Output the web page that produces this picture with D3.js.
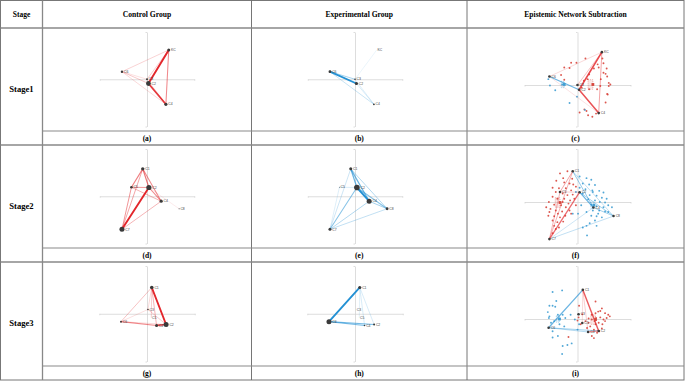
<!DOCTYPE html>
<html>
<head>
<meta charset="utf-8">
<script src="https://cdn.jsdelivr.net/npm/d3@7"></script>
<style>
  body { margin: 0; background: #fff; }
  svg { display: block; }
</style>
</head>
<body>
<div id="chart"></div>
<script>
// Textes du tableau
const stages = ["Stage1", "Stage2", "Stage3"];
const groups = ["Control Group", "Experimental Group", "Epistemic Network Subtraction"];
const captions = ["(a)", "(b)", "(c)", "(d)", "(e)", "(f)", "(g)", "(h)", "(i)"];

// Positions des codes (coordonnées ENA, même disposition dans une étape)
const stage1Codes = ["KC", "C6", "C2", "C3", "C4"];
const stage1X = [0.46, -0.53, 0.03, 0.0, 0.40];
const stage1Y = [0.62, 0.16, -0.09, 0.0, -0.53];

const stage2Codes = ["C1", "C5", "C2", "C4", "C8", "C7"];
const stage2X = [-0.09, -0.33, 0.04, 0.30, 0.68, -0.53];
const stage2Y = [0.58, 0.19, 0.185, -0.105, -0.265, -0.70];

const stage3Codes = ["C1", "C3", "C5", "C6", "C4", "C2"];
const stage3X = [0.10, 0.02, 0.09, -0.545, 0.20, 0.40];
const stage3Y = [0.55, 0.09, -0.075, -0.165, -0.245, -0.225];

// Arêtes [source, cible, poids] et tailles des noeuds
const edgesA = [[0,2,1.0],[2,4,0.9],[0,4,0.45],[1,0,0.18],[1,4,0.15],[1,2,0.22],[0,3,0.2],[3,4,0.15],[1,3,0.12]];
const sizesA = [1.5, 1.2, 2.4, 1.0, 1.6];
const edgesB = [[1,2,1.0],[1,4,0.22],[2,4,0.15],[3,4,0.12],[1,3,0.35],[0,3,0.05]];
const sizesB = [0, 1.4, 1.6, 0.8, 0.9];
const edgesC = [[0,2,0.8,"r"],[2,4,0.75,"r"],[0,4,0.35,"r"],[1,0,0.15,"r"],[1,2,0.6,"b"],[0,3,0.25,"r"],[1,4,0.1,"r"]];

const edgesD = [[5,2,1.0],[0,1,0.5],[0,2,0.55],[0,3,0.45],[0,5,0.35],[1,5,0.4],[1,2,0.4],[1,3,0.3],[2,3,0.45],[3,5,0.3],[2,4,0.05]];
const sizesD = [1.7, 1.3, 2.6, 1.6, 0.5, 2.5];
const edgesE = [[2,3,1.0],[0,2,0.6],[0,3,0.6],[0,4,0.3],[2,4,0.45],[3,4,0.35],[5,2,0.45],[5,3,0.3],[5,4,0.25],[0,5,0.2],[1,2,0.15],[1,5,0.12]];
const sizesE = [1.5, 0.4, 2.8, 2.5, 1.4, 1.5];
const edgesF = [[5,2,0.6,"r"],[0,1,0.35,"r"],[0,5,0.3,"r"],[1,5,0.3,"r"],[1,2,0.2,"r"],[2,3,0.6,"b"],[0,3,0.4,"b"],[3,4,0.35,"b"],[5,4,0.25,"b"],[5,3,0.2,"b"],[0,4,0.25,"b"],[2,4,0.35,"b"]];

const edgesG = [[0,5,1.0],[4,5,0.85],[3,4,0.45],[3,0,0.25],[0,4,0.3],[0,2,0.2],[3,5,0.15],[1,5,0.2],[3,1,0.12],[0,1,0.15]];
const sizesG = [1.8, 0.8, 0, 1.0, 1.5, 2.5];
const edgesH = [[0,3,1.0],[3,5,0.55],[3,4,0.5],[0,5,0.15],[0,4,0.15],[0,2,0.1]];
const sizesH = [1.6, 0, 0, 2.5, 0.8, 1.0];
const edgesI = [[0,3,0.6,"b"],[0,5,0.7,"r"],[3,5,0.35,"b"],[3,4,0.3,"b"],[4,5,0.5,"r"],[0,4,0.2,"r"],[0,2,0.15,"r"]];

// Points des individus (soustraction)
const pointsCRed = [[0.15,0.50],[-0.02,0.42],[-0.12,0.42],[-0.25,0.33],[-0.15,0.32],[-0.31,0.19],[-0.25,0.10],[0.47,0.50],[0.49,0.41],[0.38,0.39],[0.40,0.33],[0.31,0.31],[0.55,0.31],[0.49,0.23],[0.53,0.21],[0.56,0.16],[0.59,0.04],[0.62,0.01],[0.59,-0.02],[0.56,-0.17],[0.57,-0.18],[0.53,-0.33],[0.22,0.20],[0.19,0.11],[0.12,0.08],[0.08,-0.05],[0.13,-0.46],[0.17,-0.49],[0.04,-0.52],[0.20,-0.57],[0.28,-0.60],[0.35,-0.54],[0.22,-0.08],[0.37,-0.08],[0.43,-0.02],[0.44,0.11]];
const pointsCBlue = [[-0.55,0.11],[-0.52,-0.01],[-0.42,-0.10],[-0.15,-0.34],[-0.01,-0.22],[-0.29,0.01],[0.14,-0.47]];
const centroidsC = [[0.29,0.01],[-0.25,0.01]];

const pointsFRed = [[-0.33,0.54],[-0.19,0.58],[-0.27,0.45],[-0.10,0.44],[-0.40,0.40],[-0.25,0.37],[-0.15,0.35],[-0.08,0.33],[-0.03,0.29],[-0.47,0.27],[-0.35,0.26],[-0.22,0.26],[-0.12,0.22],[-0.41,0.19],[-0.28,0.16],[-0.19,0.13],[-0.09,0.14],[-0.47,0.10],[-0.38,0.06],[-0.25,0.06],[-0.14,0.03],[-0.54,0.00],[-0.44,-0.05],[-0.31,-0.06],[-0.22,-0.10],[-0.51,-0.13],[-0.41,-0.16],[-0.29,-0.18],[-0.15,-0.16],[-0.55,-0.26],[-0.44,-0.27],[-0.33,-0.29],[-0.23,-0.26],[-0.47,-0.35],[-0.38,-0.38],[-0.27,-0.37],[-0.44,-0.45],[-0.35,-0.48],[-0.53,-0.19],[-0.06,0.06],[-0.03,-0.06],[-0.17,-0.03],[-0.59,-0.10],[-0.37,-0.22],[-0.28,0.00],[-0.12,-0.22],[-0.41,-0.51],[-0.47,-0.59]];
const pointsFBlue = [[0.04,0.48],[0.17,0.45],[0.26,0.42],[0.10,0.35],[0.22,0.33],[0.33,0.32],[0.04,0.27],[0.15,0.24],[0.28,0.22],[0.41,0.21],[0.49,0.18],[0.10,0.16],[0.23,0.13],[0.36,0.12],[0.46,0.08],[0.20,0.05],[0.33,0.03],[0.42,0.00],[0.52,-0.01],[0.26,-0.05],[0.36,-0.08],[0.49,-0.10],[0.58,-0.06],[0.65,-0.10],[0.29,-0.16],[0.41,-0.16],[0.52,-0.18],[0.17,-0.19],[0.26,-0.26],[0.36,-0.27],[0.46,-0.29],[-0.09,-0.22],[0.01,-0.22],[0.33,-0.35],[0.23,-0.40],[0.17,-0.45],[0.10,-0.48],[0.36,-0.45],[0.18,-0.63],[0.07,-0.06],[-0.03,0.19],[0.58,-0.19],[0.39,-0.22],[0.29,0.19],[0.55,0.06]];
const centroidsF = [[-0.33,-0.01],[0.31,-0.06]];

const pointsIRed = [[0.34,0.33],[0.43,0.15],[0.46,0.20],[0.39,0.14],[0.34,0.11],[0.27,0.08],[0.52,0.11],[0.58,0.08],[0.61,0.05],[0.55,0.02],[0.49,-0.01],[0.43,0.03],[0.35,0.02],[0.27,-0.01],[0.21,0.01],[0.15,-0.04],[0.09,0.09],[0.02,0.03],[0.06,-0.10],[0.00,-0.03],[0.40,-0.07],[0.34,-0.10],[0.47,-0.10],[0.52,-0.04],[0.24,-0.14],[0.18,-0.17],[0.31,-0.20],[0.37,-0.26],[0.27,-0.32],[0.31,-0.36],[-0.17,-0.34],[0.03,0.25],[0.46,-0.18],[0.41,-0.23],[0.32,-0.04],[0.21,-0.07]];
const pointsIBlue = [[-0.47,0.51],[-0.29,0.54],[-0.40,0.34],[-0.47,0.25],[-0.53,0.25],[-0.42,0.23],[-0.56,0.13],[-0.53,0.05],[-0.54,0.02],[-0.37,0.08],[-0.28,0.08],[-0.23,0.02],[-0.44,-0.04],[-0.50,-0.07],[-0.47,-0.23],[-0.37,-0.32],[-0.47,-0.35],[-0.28,-0.51],[-0.19,-0.49],[-0.11,-0.46],[-0.29,-0.66],[-0.05,-0.01],[0.03,-0.10],[0.00,-0.20],[-0.25,-0.14],[-0.34,-0.10],[-0.13,0.08]];
const centroidsI = [[0.34,-0.01],[-0.34,0.00]];

// Dimensions et couleurs
const W = 685, H = 385;
const colX = [0.5, 42.5, 251.5, 467, 684];
const rowY = [0.5, 28, 145, 262, 380];
const capY = [131, 248, 366];
const RED = "#e3262b", BLUE = "#2491d4";
const ptRed = "#d8453c", ptBlue = "#3f9ed3";

const svg = d3.select("#chart").append("svg")
    .attr("width", W).attr("height", H);

// Lignes du tableau
const grid = svg.append("g").attr("fill", "none");
// bordure extérieure
grid.append("rect").attr("x", 0.5).attr("y", 0.5).attr("width", 683.5).attr("height", 379.5)
    .attr("stroke", "#777").attr("stroke-width", 1);
// séparateurs de colonnes
[colX[1], colX[2], colX[3]].forEach((x, i) => {
    grid.append("line").attr("x1", x).attr("x2", x).attr("y1", 0.5).attr("y2", 380)
        .attr("stroke", i === 0 ? "#888" : "#666").attr("stroke-width", i === 0 ? 1.3 : 0.9);
});
// lignes entre les étapes
[rowY[1], rowY[2], rowY[3]].forEach(y => {
    grid.append("line").attr("x1", 0.5).attr("x2", 684).attr("y1", y).attr("y2", y)
        .attr("stroke", "#888").attr("stroke-width", 1.3);
});
// lignes au-dessus des légendes
capY.forEach(y => {
    grid.append("line").attr("x1", colX[1]).attr("x2", 684).attr("y1", y).attr("y2", y)
        .attr("stroke", "#8a8a8a").attr("stroke-width", 1.2);
});

// En-têtes
const headFont = "'Liberation Serif', 'Times New Roman', serif";
svg.append("text").attr("x", 21.5).attr("y", 17).attr("text-anchor", "middle")
    .style("font-family", headFont).style("font-weight", "bold").style("font-size", "7.5px")
    .style("fill", "#000")
    .text("Stage");
groups.forEach((t, i) => {
    svg.append("text")
        .attr("x", (colX[i + 1] + colX[i + 2]) / 2).attr("y", 17)
        .attr("text-anchor", "middle")
        .style("font-family", headFont).style("font-weight", "bold").style("font-size", "7.6px")
        .style("fill", "#000")
        .text(t);
});
stages.forEach((t, i) => {
    svg.append("text").attr("x", 21.5).attr("y", (rowY[i + 1] + rowY[i + 2]) / 2 + 5)
        .attr("text-anchor", "middle")
        .style("font-family", headFont).style("font-weight", "bold").style("font-size", "8.6px")
        .style("fill", "#000")
        .text(t);
});
captions.forEach((t, k) => {
    const r = Math.floor(k / 3), c = k % 3;
    svg.append("text")
        .attr("x", (colX[c + 1] + colX[c + 2]) / 2)
        .attr("y", (capY[r] + rowY[r + 2]) / 2 + 2.8)
        .attr("text-anchor", "middle")
        .style("font-family", headFont).style("font-weight", "bold").style("font-size", "7.5px")
        .style("fill", "#000")
        .text(t);
});

// Échelles communes pour les arêtes
const widthScale = d3.scaleLinear().domain([0, 1]).range([0.35, 1.9]);
const opacityScale = d3.scaleLinear().domain([0, 1]).range([0.18, 1]);

// Fonction de dessin d'un réseau
function drawPanel(row, col, p) {
    const cx = [147, 355, 577.5][col];
    const top = rowY[row + 1] + 4, bottom = capY[row] - 4.5;
    let k, yMin;
    if (col < 2) { k = (bottom - top) / 2; yMin = -1; }
    else { k = 53; yMin = -(bottom - top - k) / k; }
    const x = d3.scaleLinear().domain([-1, 1]).range([cx - k, cx + k]);
    const y = d3.scaleLinear().domain([yMin, 1]).range([bottom, top]);
    const g = svg.append("g");

    // Axes (croix grise)
    g.append("g").attr("transform", `translate(0,${y(0)})`)
        .call(d3.axisBottom(x).tickValues([-1, 1]).tickSize(1.5).tickSizeOuter(0).tickFormat(""))
        .call(a => a.selectAll("path,line").attr("stroke", "#cfcfcf").attr("stroke-width", 0.7));
    g.append("g").attr("transform", `translate(${x(0)},0)`)
        .call(d3.axisLeft(y).tickValues([yMin, 1]).tickSize(1.5).tickSizeOuter(0).tickFormat(""))
        .call(a => a.selectAll("path,line").attr("stroke", "#cfcfcf").attr("stroke-width", 0.7));

    const nodes = p.codes.map((c, i) => ({ code: c, x: p.nx[i], y: p.ny[i] }));

    // Points et centroïdes
    if (p.points) {
        p.points.forEach((pts, s) => {
            const col = s === 0 ? ptRed : ptBlue;
            g.append("g").selectAll("circle").data(pts).enter().append("circle")
                .attr("cx", d => x(d[0])).attr("cy", d => y(d[1])).attr("r", 0.95)
                .attr("fill", col).attr("opacity", 0.9);
        });
    }

    // Arêtes
    const edges = p.edges.slice().sort((a, b) => a[2] - b[2]);
    g.append("g").selectAll("line").data(edges).enter().append("line")
        .attr("x1", d => x(nodes[d[0]].x)).attr("y1", d => y(nodes[d[0]].y))
        .attr("x2", d => x(nodes[d[1]].x)).attr("y2", d => y(nodes[d[1]].y))
        .attr("stroke", d => (d[3] || p.color) === "r" ? RED : BLUE)
        .attr("stroke-width", d => widthScale(d[2]))
        .attr("stroke-opacity", d => opacityScale(d[2]))
        .attr("stroke-linecap", "round");

    if (p.centroids) {
        p.centroids.forEach((c, s) => {
            const col = s === 0 ? ptRed : ptBlue;
            const hw = s === 0 ? 0.09 : 0.06;
            g.append("rect")
                .attr("x", x(c[0] - hw)).attr("y", y(c[1] + hw))
                .attr("width", x(hw) - x(0)).attr("height", y(-hw) - y(hw))
                .attr("fill", col).attr("fill-opacity", 0.12)
                .attr("stroke", col).attr("stroke-width", 0.4).attr("stroke-dasharray", "1,1");
            g.append("rect")
                .attr("x", x(c[0]) - 1.4).attr("y", y(c[1]) - 1.4)
                .attr("width", 2.8).attr("height", 2.8).attr("fill", col);
        });
    }

    // Noeuds et étiquettes
    const sizes = p.sizes || nodes.map(() => 1.3);
    g.append("g").selectAll("circle").data(nodes).enter().append("circle")
        .attr("cx", d => x(d.x)).attr("cy", d => y(d.y))
        .attr("r", (d, i) => sizes[i])
        .attr("fill", "#3a3a3a");
    g.append("g").selectAll("text").data(nodes).enter().append("text")
        .attr("x", (d, i) => x(d.x) + sizes[i] + 0.8).attr("y", d => y(d.y) + 1.2)
        .style("font-family", "Arial, 'Liberation Sans', sans-serif")
        .style("font-size", "3.4px").style("fill", "#444")
        .text(d => d.code);
}

const stageNodes = [
    { codes: stage1Codes, nx: stage1X, ny: stage1Y },
    { codes: stage2Codes, nx: stage2X, ny: stage2Y },
    { codes: stage3Codes, nx: stage3X, ny: stage3Y }
];
const panels = [
    [{ edges: edgesA, sizes: sizesA, color: "r" }, { edges: edgesB, sizes: sizesB, color: "b" },
     { edges: edgesC, points: [pointsCRed, pointsCBlue], centroids: centroidsC }],
    [{ edges: edgesD, sizes: sizesD, color: "r" }, { edges: edgesE, sizes: sizesE, color: "b" },
     { edges: edgesF, points: [pointsFRed, pointsFBlue], centroids: centroidsF }],
    [{ edges: edgesG, sizes: sizesG, color: "r" }, { edges: edgesH, sizes: sizesH, color: "b" },
     { edges: edgesI, points: [pointsIRed, pointsIBlue], centroids: centroidsI }]
];
panels.forEach((row, r) => row.forEach((p, c) => drawPanel(r, c, Object.assign({}, stageNodes[r], p))));
</script>
</body>
</html>
